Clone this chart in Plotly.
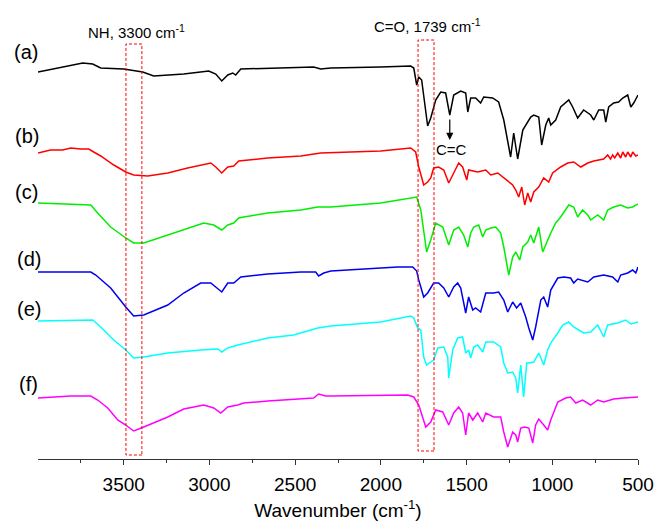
import plotly.graph_objects as go

# Stacked FTIR spectra, intensity in arbitrary units (already offset per sample)
WN_A = [4000, 3856, 3739, 3681, 3634, 3500, 3389, 3325, 3150, 3004, 2963, 2928, 2893, 2864,
        2847, 2817, 2660, 2392, 2351, 2292, 2001, 1826, 1808, 1791, 1779, 1762, 1727, 1709,
        1680, 1651, 1622, 1598, 1575, 1534, 1505, 1493, 1476, 1447, 1418, 1400, 1348, 1313,
        1283, 1243, 1225, 1202, 1172, 1155, 1126, 1108, 1079, 1062, 1038, 1021, 1009, 980,
        951, 904, 881, 852, 817, 776, 758, 729, 700, 688, 671, 642, 613, 589, 560, 542, 525, 500]
T_A = [387, 392, 396, 395, 391, 390, 387, 383, 385, 388, 385, 378, 384, 386,
       384, 390, 391, 392, 390, 391, 392, 393, 391, 374, 382, 379, 333, 341,
       359, 367, 366, 344, 364, 368, 366, 347, 361, 361, 356, 362, 361, 357,
       339, 302, 326, 300, 329, 334, 342, 344, 342, 314, 334, 341, 334, 339,
       352, 359, 352, 341, 349, 344, 339, 349, 349, 337, 352, 356, 357, 361, 364, 352, 356, 364]

WN_B = [4000, 3927, 3856, 3809, 3751, 3704, 3675, 3634, 3558, 3488, 3442, 3360, 3243, 3127,
        2992, 2963, 2928, 2893, 2858, 2829, 2660, 2467, 2351, 2001, 1826, 1797, 1779, 1750,
        1727, 1709, 1692, 1663, 1633, 1604, 1575, 1546, 1523, 1499, 1488, 1435, 1388, 1359,
        1318, 1283, 1231, 1213, 1196, 1178, 1161, 1143, 1126, 1108, 1079, 1050, 1021, 998,
        951, 910, 875, 834, 793, 758, 700, 677, 660, 648, 636, 618, 601, 589, 572, 560, 542,
        531, 513, 500]
T_B = [306, 309, 309, 311, 310, 310, 307, 303, 294, 287, 284, 283, 286, 291,
       296, 292, 286, 292, 293, 298, 301, 303, 306, 308, 311, 307, 292, 274,
       277, 281, 291, 292, 289, 276, 286, 296, 292, 279, 289, 287, 289, 284,
       286, 281, 274, 269, 262, 272, 254, 266, 257, 267, 272, 281, 277, 286,
       292, 296, 297, 292, 296, 298, 300, 304, 300, 304, 301, 306, 301, 307, 302, 307, 302,
       307, 303, 304]

WN_C = [4000, 3692, 3652, 3576, 3488, 3442, 3383, 3243, 3092, 3033, 2975, 2928, 2893, 2858,
        2829, 2800, 2660, 2467, 2368, 2292, 2001, 1843, 1791, 1767, 1750, 1733, 1709, 1680,
        1639, 1604, 1575, 1546, 1517, 1493, 1476, 1458, 1429, 1406, 1388, 1359, 1330, 1301,
        1283, 1254, 1231, 1213, 1190, 1172, 1143, 1126, 1108, 1079, 1056, 1027, 1009, 980,
        951, 904, 875, 852, 823, 793, 776, 735, 700, 677, 642, 601, 560, 531, 500]
T_C = [256, 254, 246, 232, 221, 216, 216, 224, 233, 236, 234, 229, 234, 236,
       241, 242, 246, 249, 252, 252, 256, 261, 262, 249, 226, 207, 219, 236,
       232, 214, 229, 232, 224, 212, 226, 232, 234, 222, 229, 231, 232, 226,
       212, 184, 202, 207, 199, 212, 217, 224, 216, 232, 207, 219, 226, 236,
       242, 254, 252, 242, 249, 244, 239, 244, 239, 249, 252, 254, 251, 252, 255]

WN_D = [4000, 3692, 3663, 3576, 3488, 3442, 3383, 3243, 3150, 3051, 2992, 2963, 2928, 2893,
        2858, 2817, 2660, 2467, 2380, 2363, 2333, 2292, 1902, 1814, 1791, 1779, 1750, 1727,
        1692, 1663, 1633, 1604, 1575, 1552, 1534, 1505, 1488, 1464, 1447, 1418, 1388, 1342,
        1313, 1283, 1260, 1231, 1208, 1184, 1155, 1137, 1114, 1097, 1067, 1050, 1027, 1009,
        968, 933, 893, 875, 852, 793, 758, 700, 648, 618, 601, 560, 531, 513, 500]
T_D = [187, 187, 184, 171, 152, 143, 144, 154, 166, 176, 176, 172, 167, 176,
       176, 182, 185, 187, 187, 183, 186, 188, 192, 192, 188, 179, 162, 166,
       176, 176, 171, 162, 172, 176, 171, 146, 162, 149, 151, 147, 166, 166,
       167, 159, 147, 157, 151, 156, 142, 131, 119, 132, 159, 162, 152, 169,
       181, 182, 181, 176, 180, 177, 182, 184, 182, 177, 184, 186, 189, 186, 192]

WN_E = [4000, 3681, 3634, 3558, 3488, 3442, 3383, 3243, 3051, 2952, 2928, 2893, 2835, 2660,
        2508, 2368, 2292, 2001, 1826, 1808, 1785, 1767, 1750, 1733, 1709, 1692, 1668, 1633,
        1610, 1604, 1581, 1552, 1523, 1505, 1488, 1476, 1458, 1435, 1406, 1388, 1342, 1301,
        1283, 1260, 1231, 1213, 1202, 1184, 1167, 1149, 1137, 1108, 1079, 1050, 1027, 1009,
        968, 939, 904, 875, 846, 817, 776, 735, 700, 677, 618, 572, 542, 500]
T_E = [138, 139, 132, 119, 109, 101, 102, 106, 109, 110, 107, 111, 114, 121,
       124, 131, 133, 137, 143, 141, 131, 129, 102, 94, 97, 99, 111, 112,
       102, 81, 109, 121, 122, 106, 109, 101, 112, 114, 107, 117, 117, 112,
       96, 86, 87, 81, 66, 94, 62, 96, 96, 97, 106, 94, 109, 116,
       126, 134, 137, 132, 129, 126, 127, 134, 122, 134, 136, 139, 135, 137]

WN_F = [4000, 3809, 3692, 3652, 3593, 3535, 3488, 3442, 3383, 3243, 3150, 3033, 2975, 2934,
        2893, 2835, 2800, 2660, 2392, 2363, 2322, 2292, 1843, 1808, 1779, 1738, 1709, 1680,
        1639, 1604, 1575, 1546, 1523, 1505, 1488, 1464, 1435, 1406, 1388, 1342, 1301, 1283,
        1260, 1231, 1213, 1202, 1184, 1161, 1137, 1114, 1097, 1079, 1050, 1027, 1009, 968,
        922, 893, 863, 823, 776, 735, 700, 642, 583, 500]
T_F = [61, 63, 63, 59, 51, 39, 34, 28, 32, 42, 50, 54, 51, 46,
       52, 54, 56, 58, 61, 65, 63, 63, 64, 62, 54, 32, 37, 49,
       47, 34, 46, 52, 46, 24, 46, 39, 46, 37, 46, 42, 42, 27,
       12, 27, 24, 17, 31, 32, 31, 16, 34, 40, 34, 29, 39, 57,
       61, 62, 56, 59, 54, 59, 57, 60, 61, 62]

SAMPLES = ["(a)", "(b)", "(c)", "(d)", "(e)", "(f)"]
COLORS = ["#000000", "#ff0000", "#00ee00", "#0000ee", "#00ffff", "#ff00ff"]
LABEL_Y = [407, 323, 267, 200, 150, 75]
LABEL_X = [-0.043, -0.041, -0.041, -0.038, -0.038, -0.035]

# Band markers: (wavenumber low, wavenumber high, bottom, top)
NH_BOX = (3394, 3487, 4, 415)
CO_BOX = (1690, 1783, 8, 419)

FONT = "Arial, 'Liberation Sans', sans-serif"

fig = go.Figure()
series = [(WN_A, T_A), (WN_B, T_B), (WN_C, T_C), (WN_D, T_D), (WN_E, T_E), (WN_F, T_F)]
for (wn, t), col, name in zip(series, COLORS, SAMPLES):
    fig.add_trace(go.Scatter(x=wn, y=t, mode="lines", name=name,
                             line=dict(color=col, width=1.5), showlegend=False))

for (x0, x1, y0, y1) in (NH_BOX, CO_BOX):
    fig.add_shape(type="rect", x0=x0, x1=x1, y0=y0, y1=y1, xref="x", yref="y",
                  line=dict(color="#ff0000", width=1, dash="3px,2px"))

for lab, ly, lx in zip(SAMPLES, LABEL_Y, LABEL_X):
    fig.add_annotation(x=lx, y=ly, xref="paper", yref="y", text=lab, showarrow=False,
                       xanchor="left", yanchor="middle",
                       font=dict(family=FONT, size=20, color="#000"))

fig.add_annotation(x=3424, y=428, xref="x", yref="y", text="NH, 3300 cm<sup>-1</sup>",
                   showarrow=False, font=dict(family=FONT, size=15, color="#000"))
fig.add_annotation(x=1727, y=434, xref="x", yref="y", text="C=O, 1739 cm<sup>-1</sup>",
                   showarrow=False, font=dict(family=FONT, size=15, color="#000"))
# C=C arrow
fig.add_annotation(x=1598, y=319, ax=1598, ay=341, xref="x", yref="y", axref="x", ayref="y",
                   text="", showarrow=True, arrowhead=2, arrowsize=1.2, arrowwidth=1.2,
                   arrowcolor="#000")
fig.add_annotation(x=1590, y=310, xref="x", yref="y", text="C=C", showarrow=False,
                   font=dict(family=FONT, size=15, color="#000"))

fig.update_layout(
    width=657, height=521,
    margin=dict(l=38, r=19, t=0, b=62),
    paper_bgcolor="white", plot_bgcolor="white",
    font=dict(family=FONT, color="#000"),
    xaxis=dict(range=[4000, 500], showgrid=False, zeroline=False,
               showline=True, linecolor="#333", linewidth=1,
               ticks="outside", ticklen=5, tickcolor="#333", tickwidth=1,
               tickvals=[3500, 3000, 2500, 2000, 1500, 1000, 500],
               tickfont=dict(family=FONT, size=19, color="#000"),
               ticklabelstandoff=3,
               minor=dict(ticks="outside", ticklen=3, tickcolor="#333",
                          tickvals=[3750, 3250, 2750, 2250, 1750, 1250, 750]),
               title=dict(text="Wavenumber (cm<sup>-1</sup>)",
                          font=dict(family=FONT, size=19, color="#000"), standoff=9)),
    yaxis=dict(range=[0, 459], visible=False),
)

fig.write_html("out.html")
